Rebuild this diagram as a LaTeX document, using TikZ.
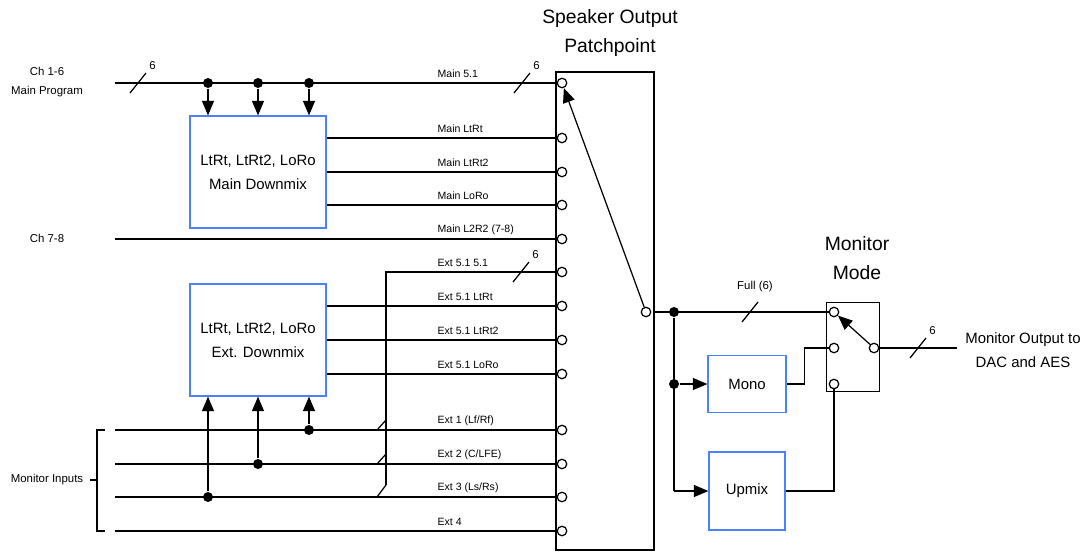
\documentclass[tikz,border=0pt]{standalone}
\usepackage{fontspec}
\setmainfont{Liberation Sans}
\usepackage{tikz}
\usetikzlibrary{positioning, arrows.meta, calc}
\definecolor{mixblue}{RGB}{77,128,255}

\begin{document}
\begin{tikzpicture}[
        x=0.02cm, y=-0.02cm, line width=0.7pt,
        mix/.style={draw=mixblue, rectangle, align=center, inner sep=0pt, font=\fontsize{8.5}{13.5}\selectfont},
        frame/.style={draw, rectangle, inner sep=0pt},
        port/.style={draw, circle, fill=white, inner sep=0pt, minimum size=1.9mm},
        dot/.style={fill, circle, inner sep=0pt, minimum size=2mm},
        arr/.style={-{Triangle[length=2.9mm, width=2.4mm]}},
        lbl/.style={anchor=west, inner sep=0pt, font=\fontsize{6}{7}\selectfont},
        side/.style={align=center, inner sep=0pt, font=\fontsize{6.5}{10.8}\selectfont},
        busn/.style={anchor=south west, inner sep=1.5pt, font=\fontsize{6.5}{7}\selectfont},
        title/.style={align=center, inner sep=0pt, font=\fontsize{11}{16.8}\selectfont}
    ]
    \useasboundingbox (0,0) rectangle (1085,552);

    % Inputs
    \node[side] (ch16) at (47,82) {Ch 1-6\\Main Program};
    \node[side] (ch78) at (47,238) {Ch 7-8};
    \node[side] (monin) at (47,480) {Monitor Inputs};
    \coordinate (in1) at (115,83);
    \coordinate (in2) at (115,239);
    \coordinate (mi1) at (115,430);
    \coordinate (mi2) at (115,464);
    \coordinate (mi3) at (115,497);
    \coordinate (mi4) at (115,531);

    % Downmix boxes
    \node[mix, minimum width=2.72cm, minimum height=2.24cm] (mainmix) at (258,172) {LtRt, LtRt2, LoRo\\Main Downmix};
    \node[mix, minimum width=2.72cm, minimum height=2.24cm] (extmix) at (258,340) {LtRt, LtRt2, LoRo\\Ext. Downmix};

    % Patchpoint
    \node[frame, minimum width=1.96cm, minimum height=9.56cm] (patch) at (605,311) {};
    \node[title] (pptitle) at (610,33) {Speaker Output\\Patchpoint};
    \node[port] (p1) at (562,83) {};
    \node[port] (p2) at (562,138) {};
    \node[port] (p3) at (562,172) {};
    \node[port] (p4) at (562,205) {};
    \node[port] (p5) at (562,239) {};
    \node[port] (p6) at (562,272) {};
    \node[port] (p7) at (562,306) {};
    \node[port] (p8) at (562,340) {};
    \node[port] (p9) at (562,374) {};
    \node[port] (p10) at (562,430) {};
    \node[port] (p11) at (562,464) {};
    \node[port] (p12) at (562,497) {};
    \node[port] (p13) at (562,531) {};
    \node[port] (pc) at (646,312) {};

    % Port labels
    \node[lbl] (l1) at (437,74) {Main 5.1};
    \node[lbl] (l2) at (437,129) {Main LtRt};
    \node[lbl] (l3) at (437,163) {Main LtRt2};
    \node[lbl] (l4) at (437,196) {Main LoRo};
    \node[lbl] (l5) at (437,230) {Main L2R2 (7-8)};
    \node[lbl] (l6) at (437,263) {Ext 5.1 5.1};
    \node[lbl] (l7) at (437,297) {Ext 5.1 LtRt};
    \node[lbl] (l8) at (437,331) {Ext 5.1 LtRt2};
    \node[lbl] (l9) at (437,365) {Ext 5.1 LoRo};
    \node[lbl] (l10) at (437,421) {Ext 1 (Lf/Rf)};
    \node[lbl] (l11) at (437,455) {Ext 2 (C/LFE)};
    \node[lbl] (l12) at (437,488) {Ext 3 (Ls/Rs)};
    \node[lbl] (l13) at (437,522) {Ext 4};

    % Taps
    \node[dot] (md1) at (208,83) {};
    \node[dot] (md2) at (258,83) {};
    \node[dot] (md3) at (309,83) {};
    \node[dot] (ed1) at (309,430) {};
    \node[dot] (ed2) at (258,464) {};
    \node[dot] (ed3) at (208,497) {};

    % Wires to patchpoint
    \draw (in1) -- (p1);
    \draw (in2) -- (p5);
    \draw (mainmix.east |- p2) -- (p2);
    \draw (mainmix.east |- p3) -- (p3);
    \draw (mainmix.east |- p4) -- (p4);
    \draw (extmix.east |- p7) -- (p7);
    \draw (extmix.east |- p8) -- (p8);
    \draw (extmix.east |- p9) -- (p9);
    \draw (mi1) -- (p10);
    \draw (mi2) -- (p11);
    \draw (mi3) -- (p12);
    \draw (mi4) -- (p13);

    % Downmix feeds
    \draw[arr] (md1) -- (md1 |- mainmix.north);
    \draw[arr] (md2) -- (md2 |- mainmix.north);
    \draw[arr] (md3) -- (md3 |- mainmix.north);
    \draw[arr] (ed1) -- (ed1 |- extmix.south);
    \draw[arr] (ed2) -- (ed2 |- extmix.south);
    \draw[arr] (ed3) -- (ed3 |- extmix.south);

    % Ext 5.1 bus
    \coordinate (bus) at (386,485);
    \draw (bus) -- (bus |- p6) -- (p6);
    \draw (377,430) -- (386,420);
    \draw (377,464) -- (386,454);
    \draw (377,497) -- (bus);

    % Bus marks
    \draw (130,93) -- (146,73) node[busn] (n1) {6};
    \draw (514,93) -- (530,73) node[busn] (n2) {6};
    \draw (513,282) -- (529,262) node[busn] (n3) {6};

    % Monitor inputs bracket
    \draw (105,430) -- (97,430) -- (97,531) -- (105,531);
    \draw (90,480) -- (97,480);

    % Selector
    \draw[arr] (pc) -- (p1);

    % Monitor mode
    \node[mix, minimum width=1.56cm, minimum height=1.14cm] (mono) at (747,384) {Mono};
    \node[mix, minimum width=1.52cm, minimum height=1.56cm] (upmix) at (747,491) {Upmix};
    \node[frame, minimum width=1.06cm, minimum height=1.78cm] (sw) at (853,347) {};
    \node[title] (mmtitle) at (857,258) {Monitor\\Mode};
    \node[port] (s1) at (834,312) {};
    \node[port] (s2) at (834,348) {};
    \node[port] (s3) at (834,384) {};
    \node[port] (so) at (874,348) {};
    \node[dot] (fd) at (674,312) {};
    \node[dot] (mdot) at (674,384) {};
    \coordinate (ud) at (674,491);
    \coordinate (outend) at (957,348);
    \node[side] (full) at (755,287) {Full (6)};
    \node[align=center, inner sep=0pt, font=\fontsize{8.5}{13.5}\selectfont] (monout) at (1023,350) {Monitor Output to\\DAC and AES};

    \draw (patch.east |- pc) -- (s1);
    \draw (fd) -- (ud);
    \draw[arr] (mdot) -- (mono);
    \draw[arr] (ud) -- (upmix);
    \draw (mono.east) -- ++(18,0) |- (s2);
    \draw (upmix.east) -| (s3);
    \draw[arr] (so) -- (s1);
    \draw (sw.east |- so) -- (outend);
    \draw (742,322) -- (758,302);
    \draw (910,358) -- (926,338) node[busn] (n4) {6};

    \end{tikzpicture}
\end{document}
